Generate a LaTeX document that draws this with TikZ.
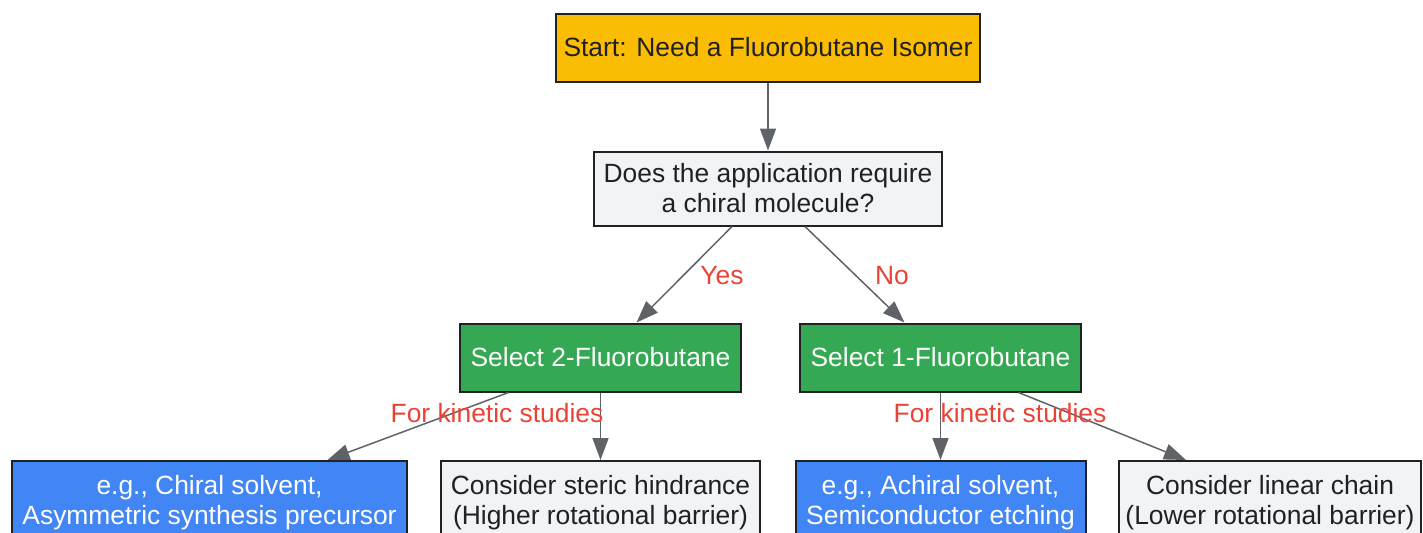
\documentclass[tikz,border=0pt]{standalone}
\usepackage{fontspec}
\setmainfont{Liberation Sans}
\usetikzlibrary{arrows.meta}
\usetikzlibrary{positioning}
\definecolor{startyellow}{HTML}{FBBC04}
\definecolor{askgray}{HTML}{F1F3F4}
\definecolor{pickgreen}{HTML}{34A853}
\definecolor{useblue}{HTML}{4285F4}
\definecolor{edgegray}{HTML}{5F6368}
\definecolor{labelred}{HTML}{EA4335}
\definecolor{inkdark}{HTML}{202124}
\tikzset{box/.style={draw=inkdark, line width=1pt, align=center, inner sep=0pt, text=inkdark,
		font=\fontsize{13.2}{15}\selectfont},
	startbox/.style={box, fill=startyellow, minimum width=212pt, minimum height=34pt},
	askbox/.style={box, fill=askgray, minimum width=174pt, minimum height=37pt},
	pickbox/.style={box, fill=pickgreen, text=white, minimum width=140.5pt, minimum height=34pt},
	usebox/.style={box, fill=useblue, text=white, minimum height=42pt},
	notebox/.style={box, fill=askgray, minimum height=42pt},
	link/.style={draw=edgegray, line width=0.75pt, -{Triangle[length=11pt, width=8pt]}},
	linklabel/.style={text=labelred, font=\fontsize{13.2}{15}\selectfont, inner sep=0pt}}

\begin{document}
\begin{tikzpicture}[x=0.5pt, y=-0.5pt]
		\useasboundingbox (0,0) rectangle (1423,532);
		% top of the tree
		\node[startbox] (start) at (768,47.5) {Start: Need a Fluorobutane Isomer};
		\node[askbox] (ask) at (768,188.5) {Does the application require\\a chiral molecule?};
		% the two isomers
		\node[pickbox] (two) at (600.5,357.5) {Select 2-Fluorobutane};
		\node[pickbox] (one) at (940.5,357.5) {Select 1-Fluorobutane};
		% leaves, cut by the lower edge
		\node[usebox, minimum width=197.5pt] (chiraluse) at (209.5,503) {e.g., Chiral solvent,\\Asymmetric synthesis precursor};
		\node[notebox, minimum width=159.5pt] (steric) at (600.5,503) {Consider steric hindrance\\(Higher rotational barrier)};
		\node[usebox, minimum width=145pt] (achiraluse) at (940.5,503) {e.g., Achiral solvent,\\Semiconductor etching};
		\node[notebox, minimum width=151pt] (linear) at (1270,503) {Consider linear chain\\(Lower rotational barrier)};

		\draw[link] (start) -- (ask);
		\draw[link] ([xshift=-18pt]ask.south) -- ([xshift=18pt]two.north);
		\draw[link] ([xshift=18.5pt]ask.south) -- ([xshift=-18pt]one.north);
		\draw[link] ([xshift=-46pt]two.south) -- ([xshift=59pt]chiraluse.north);
		\draw[link] (two.south) -- (steric.north);
		\draw[link] (one.south) -- (achiraluse.north);
		\draw[link] ([xshift=39pt]one.south) -- ([xshift=-42pt]linear.north);

		\node[linklabel] (yes) at (722,276) {Yes};
		\node[linklabel] (no) at (892,276) {No};
		\node[linklabel] (kinetictwo) at (497,413) {For kinetic studies};
		\node[linklabel] (kineticone) at (1000,413) {For kinetic studies};
%		\draw[help lines] (0,0) grid[step=50] (1423,532);
	\end{tikzpicture}
\end{document}
